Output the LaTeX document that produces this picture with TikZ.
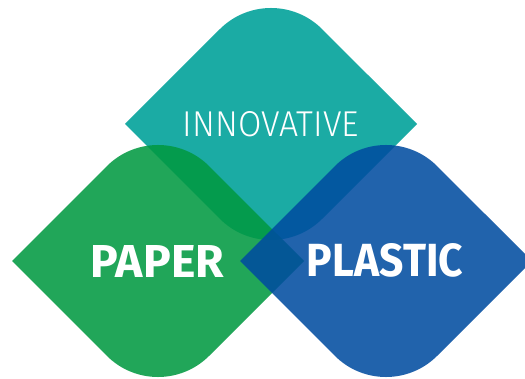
\documentclass[tikz,border=0pt]{standalone}
\usepackage{fontspec}
\setmainfont{Fira Sans}
\newfontfamily\lightfont{Fira Sans Light}
\usepackage{graphicx}
\definecolor{tealc}{RGB}{27,171,164}
\definecolor{greenc}{RGB}{1,153,65}
\definecolor{bluec}{RGB}{0,76,160}
\newcommand{\rdiam}[3]{%
  \fill[#3,shift={(#1,#2)}] (-146,0) -- (-51.2,94.8)
    arc[start angle=135,end angle=45,radius=72.4pt] -- (146,0) -- (51.2,-94.8)
    arc[start angle=-45,end angle=-135,radius=72.4pt] -- cycle;}
\tikzset{lbl/.style={text=white,inner sep=0pt,anchor=center}}
\begin{document}
\begin{tikzpicture}[x=1pt,y=1pt]
\fill[white] (0,0) rectangle (525,378);
\useasboundingbox (0,0) rectangle (525,378);
\rdiam{271}{254}{tealc}
\rdiam{158}{117}{greenc,fill opacity=0.87}
\rdiam{386}{117}{bluec,fill opacity=0.87}
\node[lbl] (innov) at (271,253.5) {\resizebox{176pt}{25pt}{\lightfont INNOVATIVE}};
\node[lbl] (paper) at (157.5,117) {\resizebox{133pt}{32pt}{\bfseries PAPER}};
\node[lbl] (plastic) at (385,118) {\resizebox{156pt}{33pt}{\bfseries PLASTIC}};
\end{tikzpicture}
\end{document}
